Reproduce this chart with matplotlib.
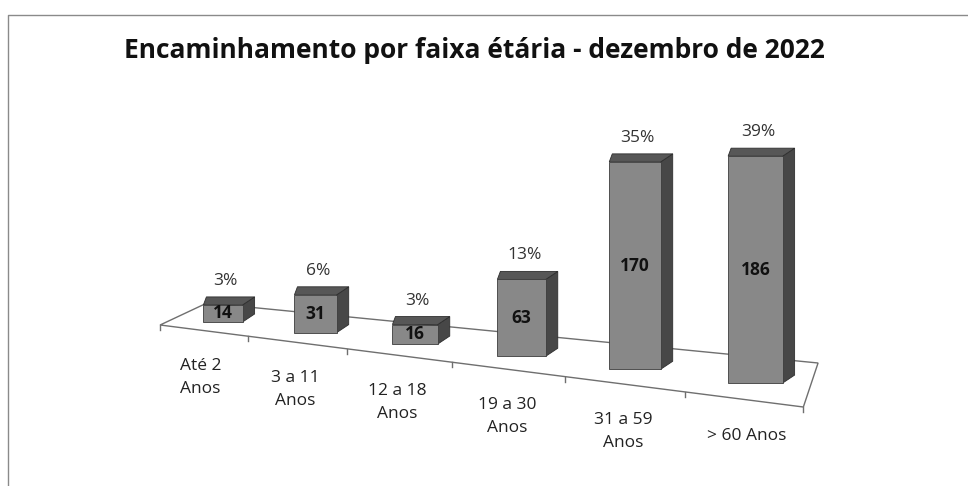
import numpy as np
import matplotlib.pyplot as plt
from matplotlib.patches import Polygon
from matplotlib.lines import Line2D

plt.rcParams['font.family'] = ['Open Sans', 'DejaVu Sans']

title = 'Encaminhamento por faixa étária - dezembro de 2022'
categories = ['Até 2\nAnos', '3 a 11\nAnos', '12 a 18\nAnos', '19 a 30\nAnos',
              '31 a 59\nAnos', '> 60 Anos']
counts = [14, 31, 16, 63, 170, 186]

W, H = 968, 486
px_x, px_y = 89.1, 1.22      # pixels per category unit / per count unit
x0, y0 = 223, 322            # pixel of the first bar's front bottom

fig = plt.figure(figsize=(W / 100, H / 100), dpi=100)
ax = fig.add_axes([0, 0, 1, 1])
ax.set_xlim(-x0 / px_x, (W - x0) / px_x)
ax.set_ylim(-(H - y0) / px_y, y0 / px_y)
ax.axis('off')

n = len(counts)
idx = np.arange(n)
pos = idx + 0.039 * idx ** 2          # fake perspective spacing
widths = 0.44 * (1 + 0.078 * idx)
slope = -8.38                          # floor tilt (count units per category unit)
base = slope * pos

# floor plane (front d=-1, back d=+1)
pL, pR = pos[0] - 0.443, pos[-1] + 0.621


def floor_pt(p, d):
    t = (p - pL) / (pR - pL)
    kx = 0.263 + t * (0.0825 - 0.263)
    kf = 6.17 + t * (14.4 - 6.17)
    kb = 11.86 + t * (21.67 - 11.86)
    y = slope * p + (kb if d > 0 else -kf)
    return p + d * kx, y


corners = [floor_pt(pL, -1), floor_pt(pR, -1), floor_pt(pR, 1), floor_pt(pL, 1)]
ax.add_patch(Polygon(corners, closed=True, facecolor='white', edgecolor='#6f6f6f',
                     lw=1.0, zorder=1))

tick_p = np.concatenate([[pL], (pos[:-1] + pos[1:]) / 2, [pR]])
for p in tick_p:
    fx, fy = floor_pt(p, -1)
    ax.plot([fx, fx], [fy, fy - 5 / px_y], color='#6f6f6f', lw=1.0, zorder=1)

# bars: front faces
ax.bar(pos, counts, width=widths, bottom=base, color='#888888',
       edgecolor='#3c3c3c', lw=0.6, zorder=3)

dx_side = 12 / px_x
dx_top = 3 / px_x
dy = 8 / px_y
for p, w, b, v in zip(pos, widths, base, counts):
    xl, xr = p - w / 2, p + w / 2
    top = b + v
    side = [(xr, b), (xr, top), (xr + dx_side, top + dy), (xr + dx_side, b + dy)]
    ax.add_patch(Polygon(side, closed=True, facecolor='#474747',
                         edgecolor='#2e2e2e', lw=0.6, zorder=2))
    lid = [(xl, top), (xr, top), (xr + dx_side, top + dy), (xl + dx_top, top + dy)]
    ax.add_patch(Polygon(lid, closed=True, facecolor='#575757',
                         edgecolor='#2e2e2e', lw=0.6, zorder=2))

total = sum(counts)
for p, b, v in zip(pos, base, counts):
    ax.text(p, b + v / 2, str(v), ha='center', va='center', fontsize=12.5,
            fontweight='bold', color='#111111', zorder=5)
    ax.text(p + 0.03, b + v + 24 / px_y, '%d%%' % round(v / total * 100),
            ha='center', va='center', fontsize=12.5, color='#333333', zorder=5)

for p, lab in zip(pos, categories):
    fx, fy = floor_pt(p, -1)
    ax.text(fx, fy - 28 / px_y, lab, ha='center', va='top', fontsize=12.5,
            color='#222222', linespacing=1.6)

fig.text(474 / W, 1 - 50 / H, title, ha='center', va='center', fontsize=19,
         fontweight='bold', color='#111111')

# chart frame (scan shows only left and top edges)
fig.add_artist(Line2D([8 / W, 8 / W, 1], [0, 1 - 15 / H, 1 - 15 / H],
                      transform=fig.transFigure, color='#8a8a8a', lw=1.0))

fig.savefig('out.png', dpi=100, facecolor='white')
